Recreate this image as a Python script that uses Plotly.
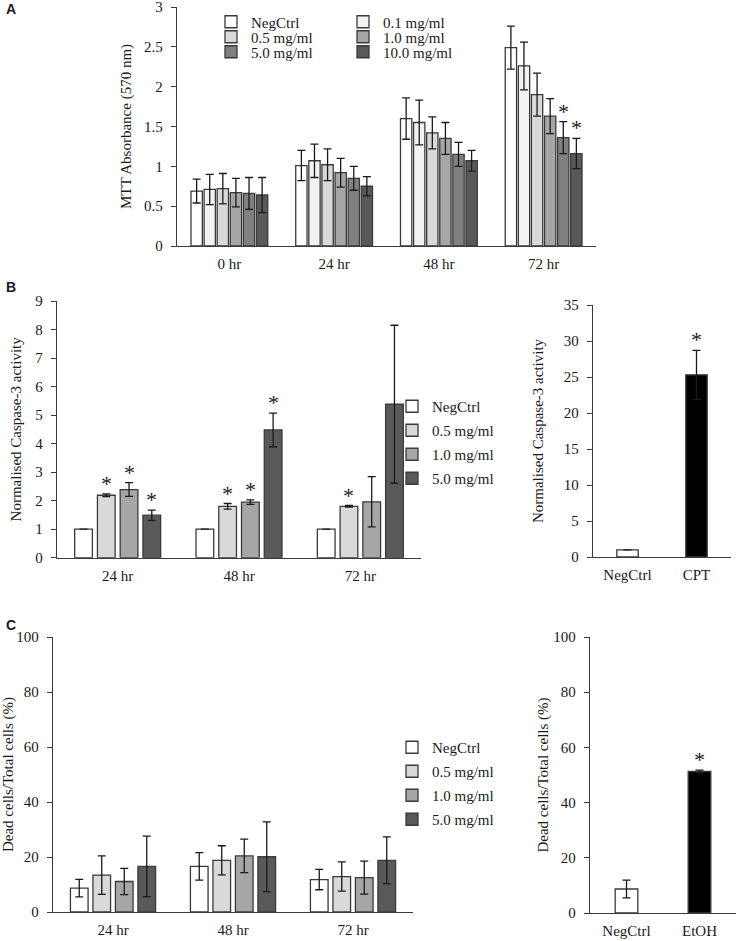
import plotly.graph_objects as go

# Panel A - MTT absorbance
mtt_times = ["0 hr", "24 hr", "48 hr", "72 hr"]
mtt_doses = ["NegCtrl", "0.1 mg/ml", "0.5 mg/ml", "1.0 mg/ml", "5.0 mg/ml", "10.0 mg/ml"]
mtt_means = [
    [0.69, 1.01, 1.60, 2.49],
    [0.71, 1.07, 1.55, 2.26],
    [0.72, 1.02, 1.42, 1.90],
    [0.67, 0.92, 1.35, 1.63],
    [0.66, 0.85, 1.15, 1.36],
    [0.64, 0.75, 1.07, 1.16],
]
mtt_errs = [
    [0.15, 0.19, 0.26, 0.27],
    [0.19, 0.21, 0.28, 0.30],
    [0.19, 0.20, 0.20, 0.27],
    [0.18, 0.18, 0.20, 0.22],
    [0.20, 0.15, 0.15, 0.20],
    [0.22, 0.12, 0.13, 0.19],
]
mtt_stars = [(3, 4), (3, 5)]  # (time index, dose index)

# Panel B - caspase-3
casp_times = ["24 hr", "48 hr", "72 hr"]
casp_doses = ["NegCtrl", "0.5 mg/ml", "1.0 mg/ml", "5.0 mg/ml"]
casp_means = [
    [1.0, 1.0, 1.0],
    [2.19, 1.80, 1.80],
    [2.39, 1.95, 1.96],
    [1.49, 4.48, 5.38],
]
casp_errs = [
    [None, None, None],
    [0.05, 0.10, 0.03],
    [0.24, 0.08, 0.88],
    [0.18, 0.59, 2.77],
]
casp_stars = [(0, 1), (0, 2), (0, 3), (1, 1), (1, 2), (1, 3), (2, 1)]

casp_ctrl_labels = ["NegCtrl", "CPT"]
casp_ctrl_means = [1.0, 25.3]
casp_ctrl_errs = [None, 3.4]
casp_ctrl_stars = [1]

# Panel C - dead cells
dead_times = ["24 hr", "48 hr", "72 hr"]
dead_doses = ["NegCtrl", "0.5 mg/ml", "1.0 mg/ml", "5.0 mg/ml"]
dead_means = [
    [8.7, 16.6, 11.8],
    [13.4, 18.8, 12.9],
    [11.1, 20.4, 12.5],
    [16.6, 20.1, 18.8],
]
dead_errs = [
    [3.2, 5.0, 3.7],
    [7.0, 5.3, 5.3],
    [4.8, 6.1, 6.0],
    [11.0, 12.7, 8.5],
]

dead_ctrl_labels = ["NegCtrl", "EtOH"]
dead_ctrl_means = [8.7, 51.3]
dead_ctrl_errs = [3.2, 0.5]
dead_ctrl_stars = [1]

W, H = 738, 941
FONT = "Liberation Serif, Times New Roman, serif"
AXC = "#3a3a3a"
TXT = "#1a1a1a"
BARGAP = 0.25

mtt_colors = ["#ffffff", "#f2f2f2", "#d9d9d9", "#a6a6a6", "#808080", "#595959"]
dose_colors = ["#ffffff", "#d9d9d9", "#a6a6a6", "#595959"]
ctrl_colors = ["#ffffff", "#000000"]


def px_x(a, b):
    return [a / W, b / W]


def px_y(top, bottom):
    return [1 - bottom / H, 1 - top / H]


fig = go.Figure()
annotations = []


def add_group(means, errs, names, colors, cats, xa, ya, width, legends):
    for i, name in enumerate(names):
        fig.add_trace(go.Bar(
            x=cats, y=means[i], name=name,
            xaxis=xa, yaxis=ya, width=width,
            marker=dict(color=colors[i], line=dict(color=AXC, width=1.3)),
            error_y=dict(type="data", array=errs[i], color=TXT, thickness=1.3, width=4),
            legend=legends[i], legendgroup=legends[i] + name,
            showlegend=True,
        ))


def add_stars(stars, means, errs, n, xa, ya):
    slot = (1 - BARGAP) / n
    for g, s in stars:
        top = means[s][g] + (errs[s][g] or 0)
        annotations.append(dict(
            x=g + (s - (n - 1) / 2) * slot, y=top, xref=xa, yref=ya,
            text="*", showarrow=False, yanchor="bottom", yshift=-4,
            font=dict(size=22, family=FONT, color=TXT),
        ))


# A
add_group(mtt_means, mtt_errs, mtt_doses, mtt_colors, mtt_times, "x", "y", 0.108,
          ["legend", "legend2", "legend3", "legend4", "legend5", "legend6"])
add_stars(mtt_stars, mtt_means, mtt_errs, len(mtt_doses), "x", "y")

# B left
add_group(casp_means, casp_errs, casp_doses, dose_colors, casp_times, "x2", "y2", 0.146,
          ["legend7"] * 4)
add_stars(casp_stars, casp_means, casp_errs, len(casp_doses), "x2", "y2")

# B right
fig.add_trace(go.Bar(
    x=casp_ctrl_labels, y=casp_ctrl_means, xaxis="x3", yaxis="y3", width=0.31,
    marker=dict(color=ctrl_colors, line=dict(color=AXC, width=1.3)),
    error_y=dict(type="data", array=casp_ctrl_errs, color=TXT, thickness=1.3, width=4),
    showlegend=False,
))
for k in casp_ctrl_stars:
    annotations.append(dict(x=casp_ctrl_labels[k], y=casp_ctrl_means[k] + casp_ctrl_errs[k],
                            xref="x3", yref="y3", text="*", showarrow=False, yanchor="bottom",
                            yshift=-4, font=dict(size=22, family=FONT, color=TXT)))

# C left
add_group(dead_means, dead_errs, dead_doses, dose_colors, dead_times, "x4", "y4", 0.147,
          ["legend8"] * 4)

# C right
fig.add_trace(go.Bar(
    x=dead_ctrl_labels, y=dead_ctrl_means, xaxis="x5", yaxis="y5", width=0.31,
    marker=dict(color=ctrl_colors, line=dict(color=AXC, width=1.3)),
    error_y=dict(type="data", array=dead_ctrl_errs, color=TXT, thickness=1.3, width=4),
    showlegend=False,
))
for k in dead_ctrl_stars:
    annotations.append(dict(x=dead_ctrl_labels[k], y=dead_ctrl_means[k] + dead_ctrl_errs[k],
                            xref="x5", yref="y5", text="*", showarrow=False, yanchor="bottom",
                            yshift=-4, font=dict(size=22, family=FONT, color=TXT)))

# panel letters
for letter, yy in [("A", 9), ("B", 287), ("C", 625)]:
    annotations.append(dict(x=4 / W, y=1 - yy / H, xref="paper", yref="paper", text="<b>%s</b>" % letter,
                            showarrow=False, xanchor="left", yanchor="middle",
                            font=dict(size=14, family="Liberation Sans, Arial", color=TXT)))


def xax(domain, anchor, ncat):
    return dict(domain=domain, anchor=anchor, range=[-0.5, ncat - 0.5], showline=True,
                linecolor=AXC, linewidth=1.3, ticks="", showgrid=False, zeroline=False,
                tickfont=dict(size=15, family=FONT), ticklabelstandoff=4, fixedrange=True,
                automargin=False, ticklabeloverflow="allow")


def yax(domain, anchor, rng, dtick, title, standoff):
    return dict(domain=domain, anchor=anchor, range=rng, dtick=dtick, showline=True,
                linecolor=AXC, linewidth=1.3, ticks="outside", ticklen=5, tickcolor=AXC,
                tickwidth=1.3, showgrid=False, zeroline=False,
                tickfont=dict(size=15, family=FONT), ticklabelstandoff=5, fixedrange=True,
                automargin=False, ticklabeloverflow="allow",
                title=dict(text=title, font=dict(size=15, family=FONT), standoff=standoff))


leg_common = dict(bgcolor="rgba(0,0,0,0)", borderwidth=0, font=dict(size=15, family=FONT, color=TXT),
                  itemwidth=30, xanchor="left")
a_rows = [22, 37, 52]
a_cols = [211, 343]
legends = {}
for i in range(6):
    key = "legend" if i == 0 else "legend%d" % (i + 1)
    legends[key] = dict(leg_common, x=a_cols[i % 2] / W, y=1 - a_rows[i // 2] / H, yanchor="middle")
legends["legend7"] = dict(leg_common, x=392 / W, y=1 - 390 / H, yanchor="top", tracegroupgap=1.5)
legends["legend8"] = dict(leg_common, x=392 / W, y=1 - 731 / H, yanchor="top", tracegroupgap=1.5)

fig.update_layout(
    template="none",
    width=W, height=H,
    margin=dict(l=0, r=0, t=0, b=0, autoexpand=False),
    paper_bgcolor="white", plot_bgcolor="white",
    font=dict(family=FONT, size=15, color=TXT),
    barmode="group", bargap=BARGAP,
    xaxis=xax(px_x(177, 596), "y", len(mtt_times)),
    yaxis=yax(px_y(7, 246), "x", [0, 3], 0.5, "MTT Absorbance (570 nm)", 8),
    xaxis2=xax(px_x(57, 421), "y2", len(casp_times)),
    yaxis2=yax(px_y(301, 557.7), "x2", [0, 9], 1, "Normalised Caspase-3 activity", 10),
    xaxis3=xax(px_x(593, 731), "y3", 2),
    yaxis3=yax(px_y(305, 557), "x3", [0, 35], 5, "Normalised Caspase-3 activity", 16),
    xaxis4=xax(px_x(53, 413), "y4", len(dead_times)),
    yaxis4=yax(px_y(637, 912), "x4", [0, 100], 20, "Dead cells/Total cells (%)", 5),
    xaxis5=xax(px_x(590, 736), "y5", 2),
    yaxis5=yax(px_y(637, 913), "x5", [0, 100], 20, "Dead cells/Total cells (%)", 1),
    annotations=annotations,
    **legends,
)

# the page body has a default 8px margin; drop it so the figure sits at the window corner
fig.write_html("out.html", config={"displayModeBar": False},
               post_script="document.body.style.margin='0';")
